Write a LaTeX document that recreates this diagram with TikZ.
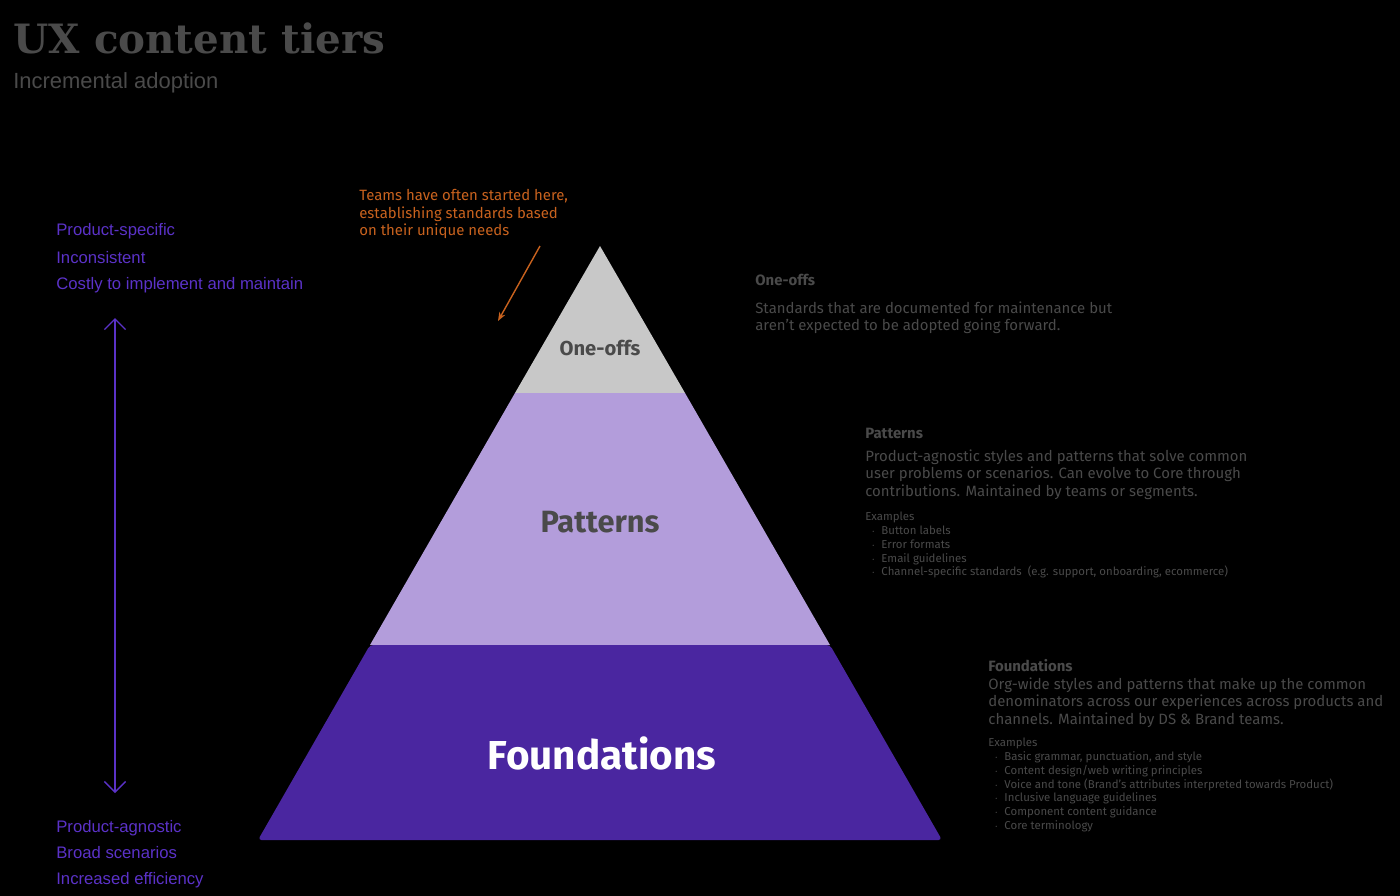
\documentclass[tikz,border=0pt]{standalone}
\usepackage{fontspec}
\setmainfont{Fira Sans}
\newfontfamily\arialf{Liberation Sans}
\newfontfamily\slabf{DejaVu Serif}
\usetikzlibrary{positioning,arrows.meta}
\definecolor{bgc}{HTML}{000000}
\definecolor{greyt}{HTML}{4A4A4A}
\definecolor{topc}{HTML}{C8C8C8}
\definecolor{midc}{HTML}{B39DDB}
\definecolor{botc}{HTML}{4A26A0}
\definecolor{purt}{HTML}{5B32C8}
\definecolor{oran}{HTML}{C8621E}
\tikzset{
  tier/.style={font=\bfseries, text=greyt},
  desc/.style={anchor=north west, align=left, text=greyt, inner sep=0pt, font=\fontsize{8.5}{10}\selectfont},
  side/.style={anchor=west, text=purt, inner sep=0pt, font=\arialf\fontsize{9.5}{11}\selectfont},
}
\begin{document}
\begin{tikzpicture}[x=0.02cm,y=-0.02cm]
  \useasboundingbox[fill=bgc] (0,0) rectangle (1400,896);
  % title
  \node[anchor=west, inner sep=0pt, text=greyt, font=\slabf\bfseries\fontsize{23}{26}\selectfont] (title) at (13,38) {UX content tiers};
  \node[anchor=west, inner sep=0pt, text=greyt, font=\arialf\fontsize{12.5}{14}\selectfont] (subtitle) at (13,83) {Incremental adoption};
  % pyramid
  \coordinate (apex) at (600,246);
  \fill[topc] (apex) -- (685,393) -- (515,393) -- cycle;
  \fill[midc] (515,393) -- (685,393) -- (830,645) -- (370,645) -- cycle;
  \fill[botc, rounded corners=2pt] (370,645) -- (830,645) -- (942,840) -- (258,840) -- cycle;
  \node[tier, font=\bfseries\fontsize{11.5}{13}\selectfont] (oneoffs) at (600,348) {One-offs};
  \node[tier, font=\bfseries\fontsize{17.5}{20}\selectfont] (patterns) at (600,522) {Patterns};
  \node[tier, text=white, font=\bfseries\fontsize{23}{26}\selectfont] (foundations) at (602,753) {Foundations};
  % note
  \node[anchor=north west, align=left, inner sep=0pt, text=oran, font=\fontsize{8.5}{10}\selectfont] (note) at (359,189) {Teams have often started here,\\establishing standards based\\on their unique needs};
  \coordinate (notetip) at (498,321);
  \draw[oran, thick, -{Stealth[length=5pt]}] (540,246) -- (notetip);
  % left scale
  \node[side] (ps) at (56,231) {Product-specific};
  \node[side] (inc) at (56,258) {Inconsistent};
  \node[side] (cost) at (56,285) {Costly to implement and maintain};
  \node[side] (pa) at (56,828) {Product-agnostic};
  \node[side] (broad) at (56,853) {Broad scenarios};
  \node[side] (eff) at (56,880) {Increased efficiency};
  \coordinate (top) at (115,318);
  \coordinate (bot) at (115,793);
  \draw[purt, thick, {Straight Barb[length=6pt]}-{Straight Barb[length=6pt]}] (top) -- (bot);
  % descriptions
  \node[desc, font=\bfseries\fontsize{8.5}{10}\selectfont] (d1h) at (755,274) {One-offs};
  \node[desc] (d1) at (755,301) {Standards that are documented for maintenance but\\aren't expected to be adopted going forward.};
  \node[desc, font=\bfseries\fontsize{8.5}{10}\selectfont] (d2h) at (865,428) {Patterns};
  \node[desc] (d2) at (865,449) {Product-agnostic styles and patterns that solve common\\user problems or scenarios. Can evolve to Core through\\contributions. Maintained by teams or segments.};
  \node[desc, font=\fontsize{6.5}{7.8}\selectfont] (d2e) at (865,512) {Examples\\
    \ \ $\cdot$\ \ Button labels\\
    \ \ $\cdot$\ \ Error formats\\
    \ \ $\cdot$\ \ Email guidelines\\
    \ \ $\cdot$\ \ Channel-specific standards\ \ (e.g. support, onboarding, ecommerce)};
  \node[desc, font=\bfseries\fontsize{8.5}{10}\selectfont] (d3h) at (988,659) {Foundations};
  \node[desc] (d3) at (988,677) {Org-wide styles and patterns that make up the common\\denominators across our experiences across products and\\channels. Maintained by DS \& Brand teams.};
  \node[desc, font=\fontsize{6.5}{7.8}\selectfont] (d3e) at (988,738) {Examples\\
    \ \ $\cdot$\ \ Basic grammar, punctuation, and style\\
    \ \ $\cdot$\ \ Content design/web writing principles\\
    \ \ $\cdot$\ \ Voice and tone (Brand's attributes interpreted towards Product)\\
    \ \ $\cdot$\ \ Inclusive language guidelines\\
    \ \ $\cdot$\ \ Component content guidance\\
    \ \ $\cdot$\ \ Core terminology};
\end{tikzpicture}
\end{document}
